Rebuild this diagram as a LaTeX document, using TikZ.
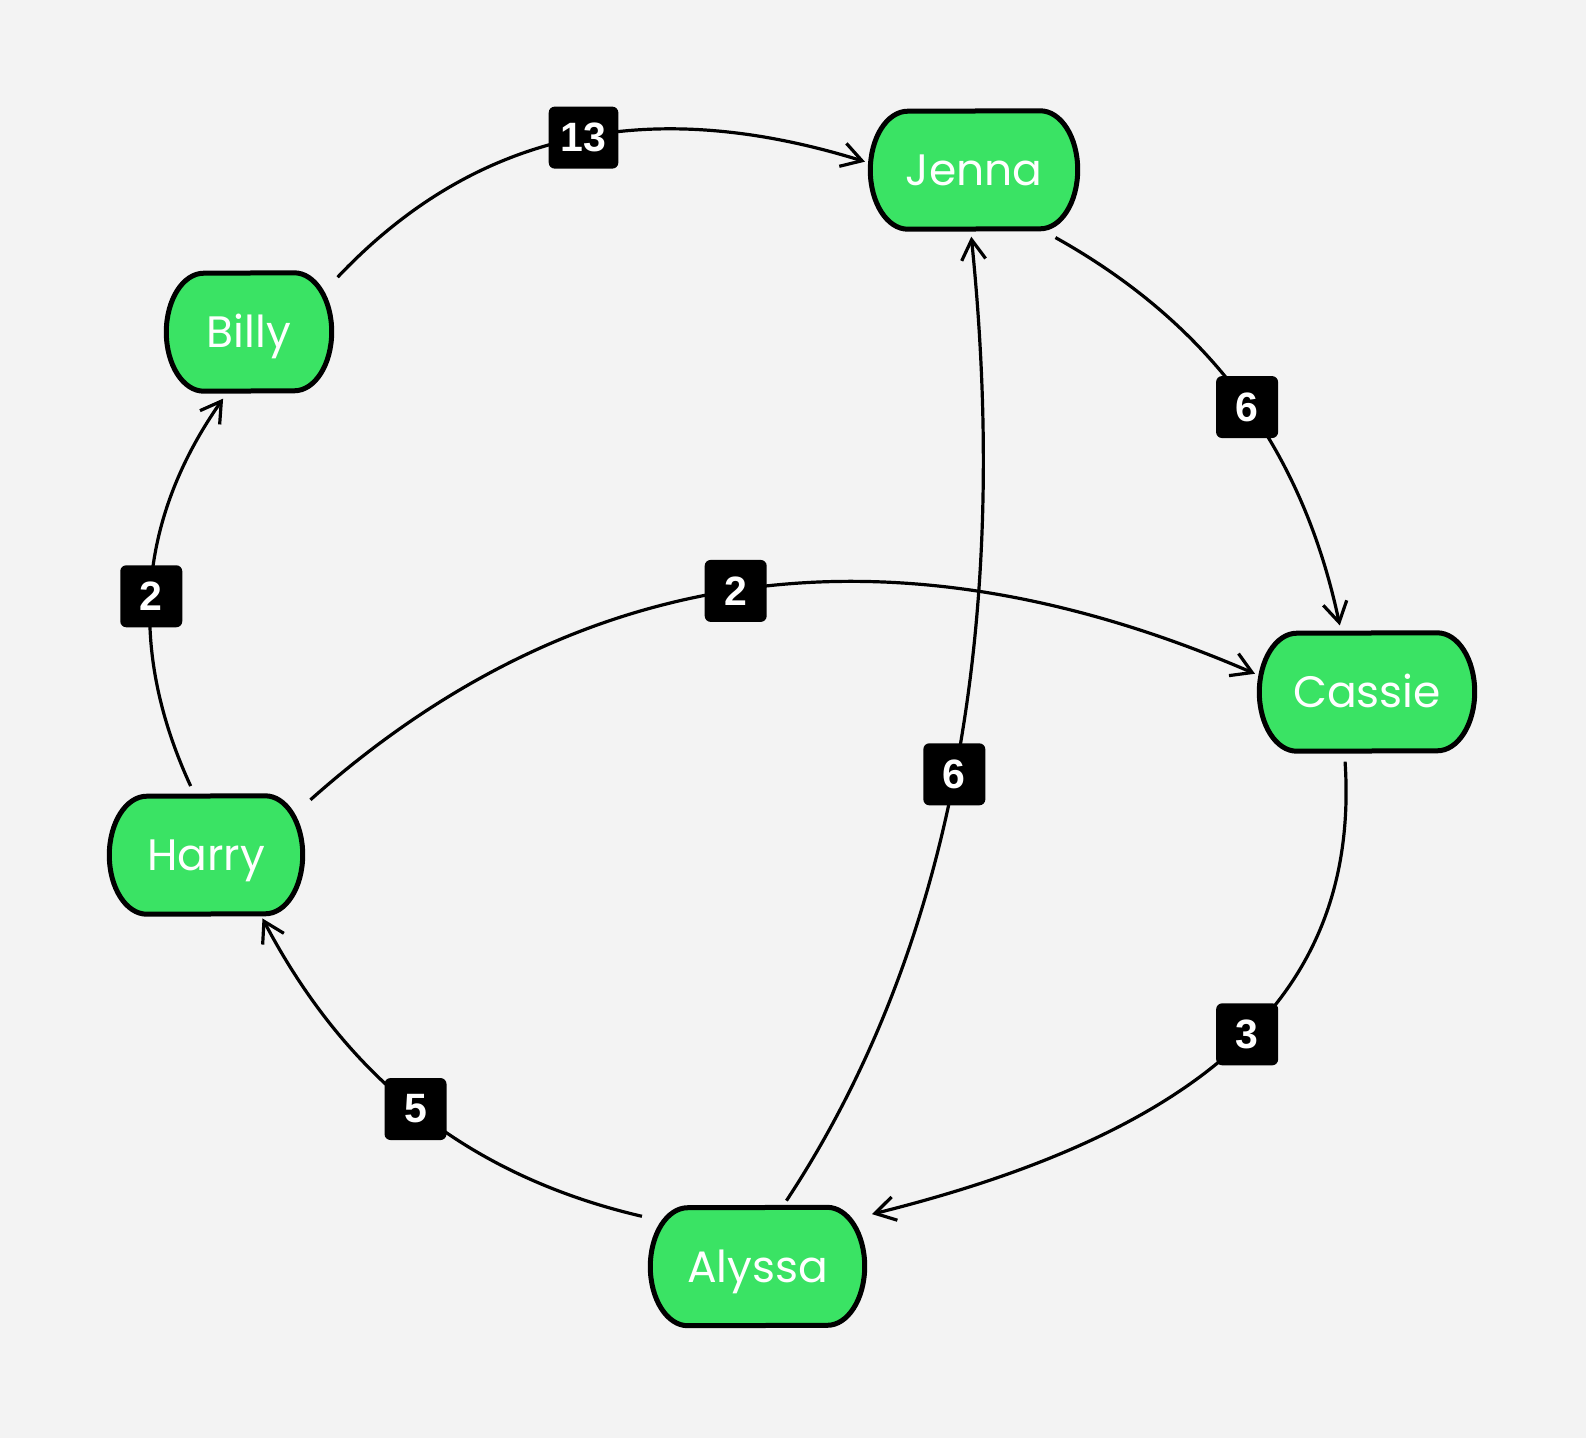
\documentclass[tikz,border=0pt]{standalone}
\usepackage{fontspec}
\setmainfont{Poppins}
\newfontfamily\labelfont{Liberation Sans}
\usetikzlibrary{arrows.meta,backgrounds}
\definecolor{nodegreen}{RGB}{58,227,100}
\definecolor{bgcol}{RGB}{243,243,243}
\tikzset{
  person/.style={draw=none, inner sep=0pt, minimum height=123pt, text=white,
    text height=31pt, text depth=0pt,
    font=\fontsize{44}{44}\selectfont},
  pill/.style={fill=nodegreen, draw=black, line width=5pt},
  edge/.style={line width=3.2pt, -{Straight Barb[length=20pt,width=24pt]}},
  lbl/.style={fill=black, text=white, rounded corners=6pt, minimum width=62pt,
    minimum height=62pt, inner xsep=12pt, inner ysep=0pt,
    font=\labelfont\bfseries\fontsize{41}{41}\selectfont}
}
\begin{document}
\begin{tikzpicture}[x=1pt,y=-1pt]
\useasboundingbox (0,0) rectangle (1586,1438);
\node[person, minimum width=212pt] (J) at (974,170) {Jenna};
\node[person, minimum width=170pt] (B) at (249,332) {Billy};
\node[person, minimum width=220pt] (C) at (1367,692) {Cassie};
\node[person, minimum width=198pt] (H) at (206,855) {Harry};
\node[person, minimum width=219pt] (A) at (757.5,1266.5) {Alyssa};
\begin{scope}[on background layer]
\fill[bgcol] (0,0) rectangle (1586,1438);
\foreach \n in {J,B,C,H,A} {
  \filldraw[pill] ([shift={(-40pt,-2.5pt)}]\n.north east)
    arc[start angle=90, end angle=-90, x radius=37.5pt, y radius=59pt]
    -- ([shift={(40pt,2.5pt)}]\n.south west)
    arc[start angle=270, end angle=90, x radius=37.5pt, y radius=59pt]
    -- cycle;
}
\end{scope}
% Billy -> Jenna
\draw[edge, shorten <=5pt, shorten >=3pt] (B.31) .. controls (477,130) and (650,95) .. node[lbl, pos=0.52] (l1) {13} (J.176);
% Jenna -> Cassie
\draw[edge, shorten <=12pt, shorten >=5pt] (J.-41) .. controls (1212,325) and (1303,452) .. node[lbl, pos=0.52] (l2) {6} (C.113);
% Harry -> Billy
\draw[edge, shorten <=8pt, shorten >=6pt] (H.101) .. controls (127,648) and (138,520) .. node[lbl, pos=0.475] (l3) {2} (B.250);
% Harry -> Cassie
\draw[edge, shorten <=7pt, shorten >=2pt] (H.27) .. controls (580,560) and (894,518) .. node[lbl, pos=0.487] (l4) {2} (C.171);
% Alyssa -> Jenna
\draw[edge, shorten <=5pt, shorten >=5pt] (A.67) .. controls (955,945) and (1010,615) .. node[lbl, pos=0.49] (l5) {6} (J.267);
% Cassie -> Alyssa
\draw[edge, shorten <=8pt, shorten >=5pt] (C.250) .. controls (1360,990) and (1210,1130) .. node[lbl, pos=0.485] (l6) {3} (A.25);
% Alyssa -> Harry
\draw[edge, shorten <=6pt, shorten >=2pt] (A.156) .. controls (465,1175) and (345,1075) .. node[lbl, pos=0.505] (l7) {5} (H.-48);
\end{tikzpicture}
\end{document}
